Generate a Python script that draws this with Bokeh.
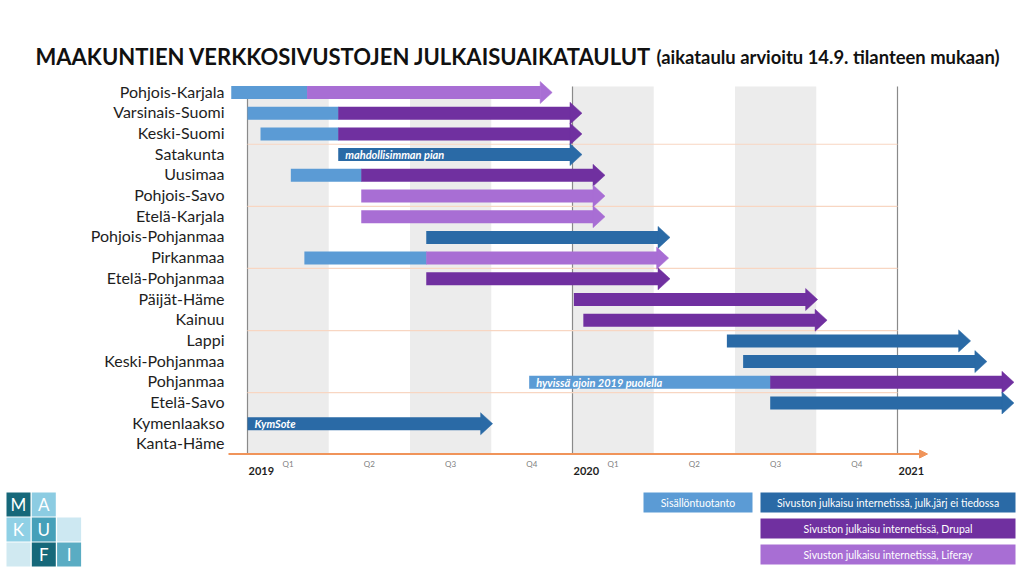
from bokeh.plotting import figure
from bokeh.models import Range1d, Arrow, NormalHead
from bokeh.core.properties import value
from bokeh.embed import file_html
from bokeh.resources import INLINE

# ---------------- data ----------------
regions = ["Pohjois-Karjala", "Varsinais-Suomi", "Keski-Suomi", "Satakunta", "Uusimaa",
           "Pohjois-Savo", "Etelä-Karjala", "Pohjois-Pohjanmaa", "Pirkanmaa", "Etelä-Pohjanmaa",
           "Päijät-Häme", "Kainuu", "Lappi", "Keski-Pohjanmaa", "Pohjanmaa", "Etelä-Savo",
           "Kymenlaakso", "Kanta-Häme"]
# months from 1.1.2019
content_start = [-0.6, 0.0, 0.48, None, 1.6, None, None, None, 2.1, None,
                 None, None, None, None, 10.4, None, None, None]
publish_start = [2.2, 3.35, 3.35, 3.35, 4.2, 4.2, 4.2, 6.6, 6.6, 6.6,
                 12.05, 12.4, 17.7, 18.3, 19.3, 19.3, 0.0, None]
publish_end = [11.25, 12.35, 12.35, 12.35, 13.2, 13.2, 13.2, 15.6, 15.55, 15.6,
               21.05, 21.4, 26.7, 27.3, 28.3, 28.3, 9.05, None]
platform = ["Liferay", "Drupal", "Drupal", "unknown", "Drupal", "Liferay", "Liferay", "unknown",
            "Liferay", "Drupal", "Drupal", "Drupal", "unknown", "unknown", "Drupal", "unknown",
            "unknown", None]
bar_notes = ["", "", "", "mahdollisimman pian", "", "", "", "", "", "", "", "", "", "",
             "hyvissä ajoin 2019 puolella", "", "KymSote", ""]
years = ["2019", "2020", "2021"]
quarters = ["Q1", "Q2", "Q3", "Q4"]
legend_labels = ["Sisällöntuotanto",
                 "Sivuston julkaisu internetissä, julk.järj ei tiedossa",
                 "Sivuston julkaisu internetissä, Drupal",
                 "Sivuston julkaisu internetissä, Liferay"]
logo_letters = ["M", "A", "", "K", "U", "", "", "F", "I"]

title_main = "MAAKUNTIEN VERKKOSIVUSTOJEN JULKAISUAIKATAULUT"
title_sub = "(aikataulu arvioitu 14.9. tilanteen mukaan)"

# ---------------- styles ----------------
LIGHT = "#5b9bd5"
DARK = "#2a6aa6"
DRUPAL = "#7030a0"
LIFERAY = "#a86ed4"
COLORS = {"unknown": DARK, "Drupal": DRUPAL, "Liferay": LIFERAY}
FONT = value("Lato")
logo_colors = ["#16687a", "#8ccce2", None, "#8fd0e5", "#46a0b9", "#cde8f2",
               "#d0e9f1", "#16687a", "#5aacc3"]

W, H = 1024, 573
PX_MONTH = 325 / 12.0
ROW_PX = 20.7


def xm(px):  # page pixel -> months
    return (px - 247) / PX_MONTH


def yr(py):  # page pixel -> row units
    return (py - 92) / ROW_PX


p = figure(width=W, height=H, output_backend="svg", toolbar_location=None,
           x_range=Range1d(xm(0), xm(W)), y_range=Range1d(yr(H), yr(0)),
           min_border=0, x_axis_location=None, y_axis_location=None,
           background_fill_color="white", border_fill_color="white")
p.outline_line_color = None
p.xgrid.visible = False
p.ygrid.visible = False

n_years = len(years) - 1
# shaded quarters (Q1 and Q3)
band_l = [12 * y + 3 * q for y in range(n_years) for q in (0, 2)]
band_r = [b + 3 for b in band_l]
p.quad(left=band_l, right=band_r, top=yr(86), bottom=yr(453),
       fill_color="#ececec", line_color=None)

# year lines
year_x = [12 * i for i in range(len(years))]
p.segment(x0=year_x, x1=year_x, y0=[yr(86)] * 3, y1=[yr(453)] * 3,
          line_color="#8a8a8a", line_width=1.2)

# separators every three rows
sep_y = [i + 0.5 for i in range(2, len(regions) - 3, 3)]
p.segment(x0=[0] * len(sep_y), x1=[24] * len(sep_y), y0=sep_y, y1=sep_y,
          line_color="#f8d6c2", line_width=1.2)

# bars
bar_h = 13 / ROW_PX
head_len = 12 / PX_MONTH
head_h = 11 / ROW_PX
rows = list(range(len(regions)))

cs_y = [i for i in rows if content_start[i] is not None]
p.hbar(y=cs_y, left=[content_start[i] for i in cs_y], right=[publish_start[i] + 0.02 for i in cs_y],
       height=bar_h, fill_color=LIGHT, line_color=None)

pb_y = [i for i in rows if publish_start[i] is not None]
pb_col = [COLORS[platform[i]] for i in pb_y]
p.hbar(y=pb_y, left=[publish_start[i] for i in pb_y], right=[publish_end[i] - head_len + 0.02 for i in pb_y],
       height=bar_h, fill_color=pb_col, line_color=None)
p.patches(xs=[[publish_end[i] - head_len, publish_end[i], publish_end[i] - head_len] for i in pb_y],
          ys=[[i - head_h, i, i + head_h] for i in pb_y],
          fill_color=pb_col, line_color=pb_col, line_width=0.5)

# notes on bars
nt = [i for i in rows if bar_notes[i]]
p.text(x=[content_start[i] if content_start[i] is not None else publish_start[i] for i in nt],
       y=nt, text=[bar_notes[i] for i in nt], x_offset=7,
       text_color="white", text_font=FONT, text_font_style="bold italic",
       text_font_size="11px", text_baseline="middle")

# row labels
p.text(x=[xm(224)] * len(regions), y=rows, text=regions, text_align="right",
       text_baseline="middle", y_offset=-1.5,
       text_font=FONT, text_font_size="16px", text_color="#1e1e1e")

# time axis
p.add_layout(Arrow(x_start=xm(228), x_end=xm(927), y_start=yr(453.5), y_end=yr(453.5),
                   line_color="#f0945a", line_width=2,
                   end=NormalHead(size=8, fill_color="#f0945a", line_color="#f0945a")))
qx = [12 * y + 3 * q + 1.5 for y in range(n_years) for q in range(4)]
p.text(x=qx, y=[yr(463)] * len(qx), text=quarters * n_years, text_align="center",
       text_baseline="middle", text_font=FONT, text_font_size="8px", text_color="#7f7f7f")
p.text(x=year_x, y=[yr(470)] * len(years), text=years, x_offset=1, text_align="left",
       text_baseline="middle", text_font=FONT, text_font_style="bold",
       text_font_size="11px", text_color="#1e1e1e")

# title
p.text(x=[xm(35)], y=[yr(56)], text=[title_main], text_font=FONT, text_font_style="bold",
       text_font_size="22px", text_baseline="alphabetic", text_color="#111111")
p.text(x=[xm(656)], y=[yr(56)], text=[title_sub], text_font=FONT, text_font_style="bold",
       text_font_size="18.4px", text_baseline="alphabetic", text_color="#111111")

# legend
lg_l = [643, 760, 760, 760]
lg_r = [752, 1015, 1015, 1015]
lg_t = [492, 492, 518, 544]
lg_col = [LIGHT, DARK, DRUPAL, LIFERAY]
p.quad(left=[xm(v) for v in lg_l], right=[xm(v) for v in lg_r],
       top=[yr(v) for v in lg_t], bottom=[yr(v + 20) for v in lg_t],
       fill_color=lg_col, line_color=None)
p.text(x=[xm((a + b) / 2) for a, b in zip(lg_l, lg_r)], y=[yr(v + 10) for v in lg_t],
       text=legend_labels, text_align="center", text_baseline="middle",
       text_font=FONT, text_font_size="10.5px", text_color="white")

# logo
cell = 24
lx, ly = [], []
lcol, ltx, lty, ltext = [], [], [], []
for k, c in enumerate(logo_colors):
    r_, c_ = divmod(k, 3)
    cx = 18 + c_ * 25.3
    cy = 504 + r_ * 25
    if c is not None:
        lx.append(xm(cx)); ly.append(yr(cy)); lcol.append(c)
    if logo_letters[k]:
        ltx.append(xm(cx)); lty.append(yr(cy)); ltext.append(logo_letters[k])
p.rect(x=lx, y=ly, width=cell, height=cell, width_units="screen", height_units="screen",
       fill_color=lcol, line_color=None)
p.text(x=ltx, y=lty, text=ltext, text_align="center", text_baseline="middle",
       text_font=FONT, text_font_size="17px", text_color="white")

open("out.html", "w").write(file_html(p, INLINE))
